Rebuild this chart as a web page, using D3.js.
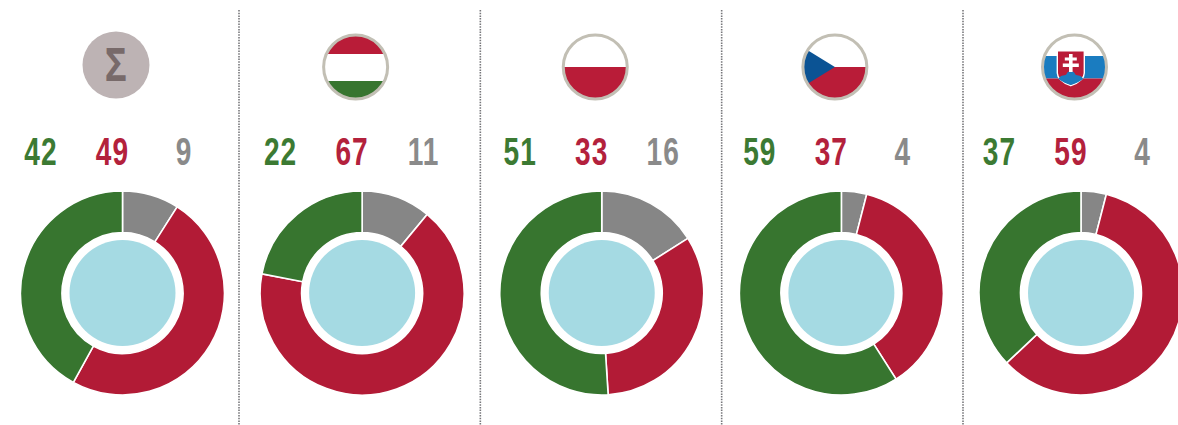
<!DOCTYPE html>
<html>
<head>
<meta charset="utf-8">
<script src="https://cdn.jsdelivr.net/npm/d3@7"></script>
<style>
  html, body { margin: 0; padding: 0; background: #fff; overflow: hidden; }
  svg { display: block; }
</style>
</head>
<body>
<div id="chart"></div>
<script>
const groups = ["all", "hu", "pl", "cz", "sk"];
const categories = ["gray", "red", "green"];
const gray = [9, 11, 16, 4, 4];
const red = [49, 67, 33, 37, 59];
const green = [42, 22, 51, 59, 37];

const width = 1178;
const height = 425;
const colors = { green: "#37752f", red: "#b21b36", gray: "#868686" };
const labelColors = { green: "#3c7a33", red: "#b3213c", gray: "#8a8a8a" };
const flagRed = "#b91c38";
const flagGreen = "#37752f";

const svg = d3.select("#chart").append("svg")
  .attr("width", width)
  .attr("height", height);

const x = d3.scalePoint().domain(groups).range([122.5, 1081]);
// the dividers are spaced a bit wider than the donuts
const dividerX = d3.scalePoint().domain(groups.slice(1)).range([239, 963]);
const donutY = 293;
const iconX = -6.5;
const iconY = 67;
const iconR = 33.5;

const pie = d3.pie().sort(null).value((d) => d.value);
const arc = d3.arc().innerRadius(60.5).outerRadius(102);

// dotted dividers between the columns
svg.selectAll(".divider")
  .data(groups.slice(1))
  .enter()
  .append("line")
  .attr("class", "divider")
  .attr("x1", (d) => dividerX(d))
  .attr("x2", (d) => dividerX(d))
  .attr("y1", 10)
  .attr("y2", 425)
  .attr("stroke", "#77777b")
  .attr("stroke-width", 1.6)
  .attr("stroke-dasharray", "1.5 1.2");

const col = svg.selectAll(".col")
  .data(groups)
  .enter()
  .append("g")
  .attr("class", "col")
  .attr("transform", (d) => `translate(${x(d)},0)`);

// donuts
col.each(function (d, i) {
  const g = d3.select(this).append("g").attr("transform", `translate(0,${donutY})`);
  const rows = categories.map((key, j) => ({ key, value: [gray, red, green][j][i] }));
  g.selectAll("path")
    .data(pie(rows))
    .enter()
    .append("path")
    .attr("d", arc)
    .attr("fill", (s) => colors[s.data.key])
    .attr("stroke", "#fff")
    .attr("stroke-width", 1.6);
  g.append("circle").attr("r", 53).attr("fill", "#a5dae3");
});

// value labels
const labelX = d3.scaleOrdinal().domain(["green", "red", "gray"]).range([-81.5, -10, 61.5]);
col.each(function (d, i) {
  const values = { green: green[i], red: red[i], gray: gray[i] };
  d3.select(this).selectAll(".val")
    .data(["green", "red", "gray"])
    .enter()
    .append("text")
    .attr("class", "val")
    .attr("text-anchor", "middle")
    .attr("transform", (k) => `translate(${labelX(k)},164.5) scale(0.72,1)`)
    .attr("font-family", "'Liberation Sans Narrow', 'Liberation Sans', sans-serif")
    .attr("font-weight", 700)
    .attr("font-size", 39)
    .attr("letter-spacing", 1.5)
    .attr("fill", (k) => labelColors[k])
    .text((k) => values[k]);
});

// icons on top of each column
const defs = svg.append("defs");
defs.append("clipPath").attr("id", "flagClip")
  .append("circle").attr("r", iconR - 1.5);

function iconGroup(id) {
  return col.filter((d) => d === id).append("g")
    .attr("transform", `translate(${iconX},${iconY})`);
}

function stripes(g, rows) {
  const inner = g.append("g").attr("clip-path", "url(#flagClip)");
  inner.append("rect")
    .attr("x", -iconR).attr("y", -iconR)
    .attr("width", iconR * 2).attr("height", iconR * 2)
    .attr("fill", "#fff");
  rows.forEach(([y0, y1, fill]) => {
    inner.append("rect")
      .attr("x", -iconR).attr("y", y0)
      .attr("width", iconR * 2).attr("height", y1 - y0)
      .attr("fill", fill);
  });
  return inner;
}

function ring(g) {
  g.append("circle")
    .attr("r", iconR - 1.5)
    .attr("fill", "none")
    .attr("stroke", "#c2bfb4")
    .attr("stroke-width", 3);
}

// sum icon
const sumIcon = iconGroup("all");
sumIcon.append("circle").attr("cy", -2).attr("r", 33.5).attr("fill", "#bdb3b4");
sumIcon.append("text")
  .attr("transform", "translate(0,14) scale(0.8,1)")
  .attr("text-anchor", "middle")
  .attr("font-family", "'Open Sans', sans-serif")
  .attr("font-weight", 700)
  .attr("font-size", 46)
  .attr("fill", "#786a6a")
  .text("Σ");

// Hungary
const hu = iconGroup("hu");
stripes(hu, [[-34, -13, flagRed], [14, 34, flagGreen]]);
ring(hu);

// Poland
const pl = iconGroup("pl");
stripes(pl, [[0, 34, flagRed]]);
ring(pl);

// Czech Republic
const cz = iconGroup("cz");
const czIn = stripes(cz, [[0, 34, flagRed]]);
czIn.append("path")
  .attr("d", "M-34,-21 L0,0 L-34,21 Z")
  .attr("fill", "#0b5394");
ring(cz);

// Slovakia
const sk = iconGroup("sk");
const skIn = stripes(sk, [[-11, 11.5, "#1a7cc0"], [11.5, 34, flagRed]]);
const shield = skIn.append("g").attr("transform", "translate(-3.7,0)");
shield.append("path")
  .attr("d", "M-13.5,-16.3 H13.5 V6 C13.5,13 6,16.5 0,18.7 C-6,16.5 -13.5,13 -13.5,6 Z")
  .attr("fill", flagRed)
  .attr("stroke", "#fff")
  .attr("stroke-width", 1.4);
shield.append("path")
  .attr("d", "M-12.5,12 C-10,7 -5,9.5 -4,6.5 C-3,3 3,3 4,6.5 C5,9.5 10,7 12.5,12 C8,15 4,17 0,18 C-4,17 -8,15 -12.5,12 Z")
  .attr("fill", "#1a7cc0");
shield.append("path")
  .attr("d", "M-1.8,-13 H1.8 V-9.5 H6 V-6.5 H1.8 V-3.5 H8 V0 H1.8 V5 H-1.8 V0 H-8 V-3.5 H-1.8 V-6.5 H-6 V-9.5 H-1.8 Z")
  .attr("fill", "#fff");
ring(sk);
</script>
</body>
</html>
